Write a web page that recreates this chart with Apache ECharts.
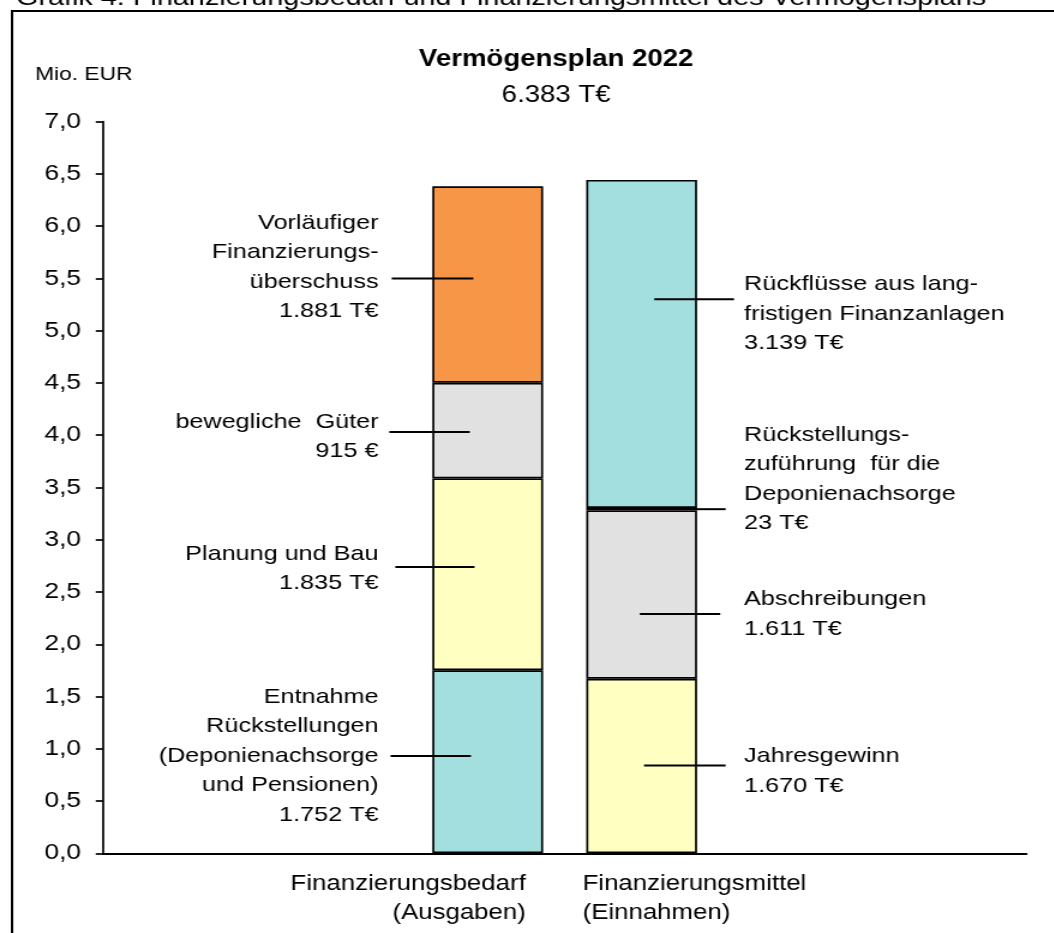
<!DOCTYPE html>
<html>
<head>
<meta charset="utf-8">
<title>Vermögensplan 2022</title>
<script src="https://cdn.jsdelivr.net/npm/echarts@6/dist/echarts.min.js"></script>
<style>
  html, body { margin: 0; padding: 0; background: #fff; overflow: hidden; }
  /* the chart is laid out narrow and widened horizontally, giving the wide lettering of the original graphic */
  #chart { width: 878.33px; height: 933px; transform: scaleX(1.2); transform-origin: 0 0; }
</style>
</head>
<body>
<div id="chart"></div>
<script>
// ---- data (Mio. EUR) ----
const categories = ['', '', 'Finanzierungsbedarf\n(Ausgaben)', 'Finanzierungsmittel\n(Einnahmen)', '', ''];

// Finanzierungsbedarf, stacked bottom to top
const ausgabenNames  = ['Entnahme\nRückstellungen\n(Deponienachsorge\nund Pensionen)', 'Planung und Bau', 'bewegliche  Güter', 'Vorläufiger\nFinanzierungs-\nüberschuss'];
const ausgabenValues = [1.752, 1.835, 0.915, 1.881];
const ausgabenUnits  = ['T€', 'T€', '€', 'T€'];

// Finanzierungsmittel, stacked bottom to top
const einnahmenNames  = ['Jahresgewinn', 'Abschreibungen', 'Rückstellungs-\nzuführung  für die\nDeponienachsorge', 'Rückflüsse aus lang-\nfristigen Finanzanlagen'];
const einnahmenValues = [1.670, 1.611, 0.023, 3.139];
const einnahmenUnits  = ['T€', 'T€', 'T€', 'T€'];

const chartTitle = 'Vermögensplan 2022';
const caption = 'Grafik 4: Finanzierungsbedarf und Finanzierungsmittel des Vermögensplans';
const axisUnit = 'Mio. EUR';

// ---- styles ----
const FONT = "'Liberation Sans', Arial, Helvetica, sans-serif";
const ausgabenColors  = ['#A4DFE0', '#FFFFC2', '#E1E1E1', '#F79646'];
const einnahmenColors = ['#FFFFC2', '#E1E1E1', '#000000', '#A4DFE0'];
const BAR_CAT = 2, MITTEL_CAT = 3;

// leader line level (axis value), line extent and text offset (px) for each callout
const ausgabenCallouts = [
  { at: 0.93, x1: -81, x2: -14, dy: 0 },
  { at: 2.74, x1: -77, x2: -11, dy: 2 },
  { at: 4.03, x1: -82, x2: -15, dy: 4.5 },
  { at: 5.50, x1: -80, x2: -12, dy: -11.5 }
];
const einnahmenCallouts = [
  { at: 0.84, x1: 2,    x2: 70,   dy: 5.5 },
  { at: 2.29, x1: -1.5, x2: 65.5, dy: 0 },
  { at: null, x1: 45,   x2: 70,   dy: -30 },   // null: middle of its segment
  { at: 5.30, x1: 10.5, x2: 77,   dy: 14.6 }
];

function thousands(n) {
  return String(n).replace(/\B(?=(\d{3})+(?!\d))/g, '.');
}
function amount(v, unit) {
  return thousands(Math.round(v * 1000)) + ' ' + unit;
}
const total = ausgabenValues.reduce((a, b) => a + b, 0);

// ---- bar series: one stacked series per segment ----
function segmentSeries(names, values, colors, cat) {
  return values.map((v, i) => {
    const data = categories.map((_, k) => (k === cat ? v : '-'));
    return {
      name: names[i].replace(/\n/g, ' '),
      type: 'bar',
      stack: 'summe',
      barWidth: '72%',
      data: data,
      itemStyle: { color: colors[i], borderColor: '#000', borderWidth: 1.7 },
      emphasis: { disabled: true },
      z: 2
    };
  });
}

// ---- callouts: leader lines and label texts ----
const callouts = [];
function addCallouts(names, values, units, layout, cat, side) {
  let base = 0;
  values.forEach((v, i) => {
    const l = layout[i];
    callouts.push({
      cat: cat,
      at: l.at == null ? base + v / 2 : l.at,
      x1: l.x1, x2: l.x2, dy: l.dy,
      tx: side === 'left' ? -91 : 85.4,
      align: side === 'left' ? 'right' : 'left',
      text: names[i] + '\n' + amount(v, units[i]),
      fontSize: 21, lineHeight: 29.5
    });
    base += v;
  });
}
addCallouts(ausgabenNames, ausgabenValues, ausgabenUnits, ausgabenCallouts, BAR_CAT, 'left');
addCallouts(einnahmenNames, einnahmenValues, einnahmenUnits, einnahmenCallouts, MITTEL_CAT, 'right');
// category names under the axis
callouts.push({ cat: BAR_CAT, at: 0, tx: 31.7, dy: 45.2, align: 'right', text: categories[BAR_CAT], fontSize: 21.5, lineHeight: 29 });
callouts.push({ cat: MITTEL_CAT, at: 0, tx: -49.2, dy: 45.2, align: 'left', text: categories[MITTEL_CAT], fontSize: 21.5, lineHeight: 29 });

const chart = echarts.init(document.getElementById('chart'));

const option = {
  animation: false,
  backgroundColor: '#ffffff',
  title: {
    text: chartTitle,
    subtext: amount(total, 'T€'),
    left: 463.5,
    top: 48,
    padding: 0,
    itemGap: 12.8,
    textAlign: 'center',
    textVerticalAlign: 'top',
    textStyle: { fontFamily: FONT, fontSize: 23, fontWeight: 'bold', color: '#000', lineHeight: 23 },
    subtextStyle: { fontFamily: FONT, fontSize: 23, color: '#000', lineHeight: 23 }
  },
  graphic: [
    { type: 'rect', shape: { x: 10, y: 11, width: 1000, height: 1000 },
      style: { fill: null, stroke: '#000', lineWidth: 2 }, silent: true, z: 0 },
    { type: 'text', x: 13.3, y: -1.8,
      style: { text: caption, font: '24px ' + FONT, fill: '#000', align: 'left', verticalAlign: 'middle' }, silent: true },
    { type: 'text', x: 29.2, y: 75,
      style: { text: axisUnit, font: '19px ' + FONT, fill: '#000', align: 'left', verticalAlign: 'middle' }, silent: true }
  ],
  grid: { left: 85.8, right: 22.7, top: 121.7, bottom: 79.7, containLabel: false },
  xAxis: {
    type: 'category',
    data: categories,
    axisLine: { lineStyle: { color: '#000', width: 2 } },
    axisTick: { show: false },
    axisLabel: { show: false },
    splitLine: { show: false }
  },
  yAxis: {
    type: 'value',
    min: 0,
    max: 7,
    interval: 0.5,
    axisLine: { show: true, lineStyle: { color: '#000', width: 1.7 } },
    axisTick: { show: true, length: 6, lineStyle: { color: '#000', width: 1.7 } },
    axisLabel: {
      margin: 18.3,
      fontFamily: FONT,
      fontSize: 22,
      color: '#000',
      formatter: v => v.toFixed(1).replace('.', ',')
    },
    splitLine: { show: false }
  },
  series: [
    ...segmentSeries(ausgabenNames, ausgabenValues, ausgabenColors, BAR_CAT),
    ...segmentSeries(einnahmenNames, einnahmenValues, einnahmenColors, MITTEL_CAT),
    {
      type: 'custom',
      name: 'Beschriftung',
      silent: true,
      z: 5,
      clip: false,
      encode: { x: 0, y: 1 },
      data: callouts.map(c => [c.cat, c.at]),
      renderItem: function (params, api) {
        const c = callouts[params.dataIndex];
        const p = api.coord([api.value(0), api.value(1)]);
        const children = [];
        if (c.x1 != null) {
          children.push({
            type: 'line',
            shape: { x1: p[0] + c.x1, y1: p[1], x2: p[0] + c.x2, y2: p[1] },
            style: { stroke: '#000', lineWidth: 2 }
          });
        }
        children.push({
          type: 'text',
          x: p[0] + c.tx,
          y: p[1] + c.dy,
          style: {
            text: c.text,
            fontFamily: FONT,
            fontSize: c.fontSize,
            lineHeight: c.lineHeight,
            fill: '#000',
            align: c.align,
            verticalAlign: 'middle'
          }
        });
        return { type: 'group', children: children };
      }
    }
  ]
};

chart.setOption(option);
</script>
</body>
</html>
